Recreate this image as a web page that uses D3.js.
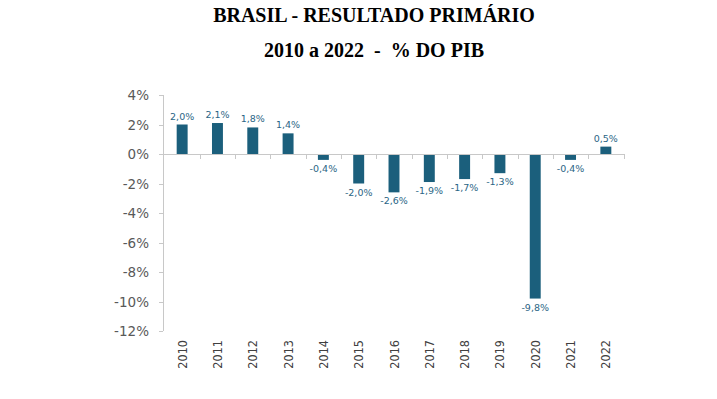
<html>
<head>
<meta charset="utf-8">
<script src="https://d3js.org/d3.v7.min.js"></script>
<style>
  body { margin: 0; background: #fff; }
</style>
</head>
<body>
<script>
var years = ["2010","2011","2012","2013","2014","2015","2016","2017","2018","2019","2020","2021","2022"];
var values = [2.0, 2.1, 1.8, 1.4, -0.4, -2.0, -2.6, -1.9, -1.7, -1.3, -9.8, -0.4, 0.5];
var yTicks = [4, 2, 0, -2, -4, -6, -8, -10, -12];

var width = 717, height = 399;
var barColor = "#1b5f7c";

var svg = d3.select("body").append("svg")
    .attr("width", width)
    .attr("height", height);

svg.append("text")
    .attr("x", 374).attr("y", 22)
    .attr("text-anchor", "middle")
    .style("font-family", "'Liberation Serif', 'Times New Roman', serif")
    .style("font-weight", "bold")
    .style("font-size", "20px")
    .text("BRASIL - RESULTADO PRIMÁRIO");

svg.append("text")
    .attr("x", 374).attr("y", 57)
    .attr("text-anchor", "middle")
    .attr("xml:space", "preserve")
    .style("white-space", "pre")
    .style("font-family", "'Liberation Serif', 'Times New Roman', serif")
    .style("font-weight", "bold")
    .style("font-size", "20px")
    .text("2010 a 2022  -  % DO PIB");

var x = d3.scaleBand().domain(years).range([164.5, 623.5])
    .paddingInner(0.69).paddingOuter(0.345);
var y = d3.scaleLinear().domain([-12, 4]).range([331, 95]);

// y axis
svg.append("line")
    .attr("x1", 163.5).attr("x2", 163.5)
    .attr("y1", y(4)).attr("y2", y(-12))
    .attr("stroke", "#c8c8c8");

svg.selectAll(".ytick").data(yTicks).enter().append("line")
    .attr("x1", 159).attr("x2", 163)
    .attr("y1", function(d) { return Math.round(y(d)) + 0.5; })
    .attr("y2", function(d) { return Math.round(y(d)) + 0.5; })
    .attr("stroke", "#c8c8c8");

svg.selectAll(".ylab").data(yTicks).enter().append("text")
    .attr("x", 149).attr("y", function(d) { return y(d) + 5; })
    .attr("text-anchor", "end")
    .style("font-family", "'DejaVu Sans', Verdana, sans-serif")
    .style("font-size", "13.5px")
    .style("fill", "#595959")
    .text(function(d) { return d + "%"; });

// bars
svg.selectAll(".bar").data(values).enter().append("rect")
    .attr("x", function(d, i) { return x(years[i]); })
    .attr("width", x.bandwidth())
    .attr("y", function(d) { return y(Math.max(0, d)); })
    .attr("height", function(d) { return Math.abs(y(d) - y(0)); })
    .attr("fill", barColor);

// zero line + category ticks
svg.append("line")
    .attr("x1", 163).attr("x2", 624)
    .attr("y1", Math.round(y(0)) + 0.5).attr("y2", Math.round(y(0)) + 0.5)
    .attr("stroke", "#c8c8c8");

var step = x.step();
var bounds = d3.range(1, years.length + 1).map(function(i) { return 164.5 + i * step; });
svg.selectAll(".xtick").data(bounds).enter().append("line")
    .attr("x1", function(d) { return Math.round(d) + 0.5; })
    .attr("x2", function(d) { return Math.round(d) + 0.5; })
    .attr("y1", y(0)).attr("y2", y(0) + 5)
    .attr("stroke", "#c8c8c8");

// value labels
svg.selectAll(".vlab").data(values).enter().append("text")
    .attr("x", function(d, i) { return x(years[i]) + x.bandwidth() / 2; })
    .attr("y", function(d) { return d >= 0 ? y(d) - 5 : y(d) + 12; })
    .attr("text-anchor", "middle")
    .style("font-family", "'DejaVu Sans', Verdana, sans-serif")
    .style("font-size", "9.5px")
    .style("fill", "#2a6585")
    .text(function(d) { return d.toFixed(1).replace(".", ",") + "%"; });

// year labels
svg.selectAll(".xlab").data(years).enter().append("text")
    .attr("transform", function(d) {
        return "translate(" + (x(d) + x.bandwidth() / 2 + 4.5) + ",340) rotate(-90)";
    })
    .attr("text-anchor", "end")
    .style("font-family", "'DejaVu Sans Condensed', 'Liberation Sans Narrow', sans-serif")
    .style("font-size", "12.5px")
    .style("fill", "#404040")
    .text(function(d) { return d; });
</script>
</body>
</html>
